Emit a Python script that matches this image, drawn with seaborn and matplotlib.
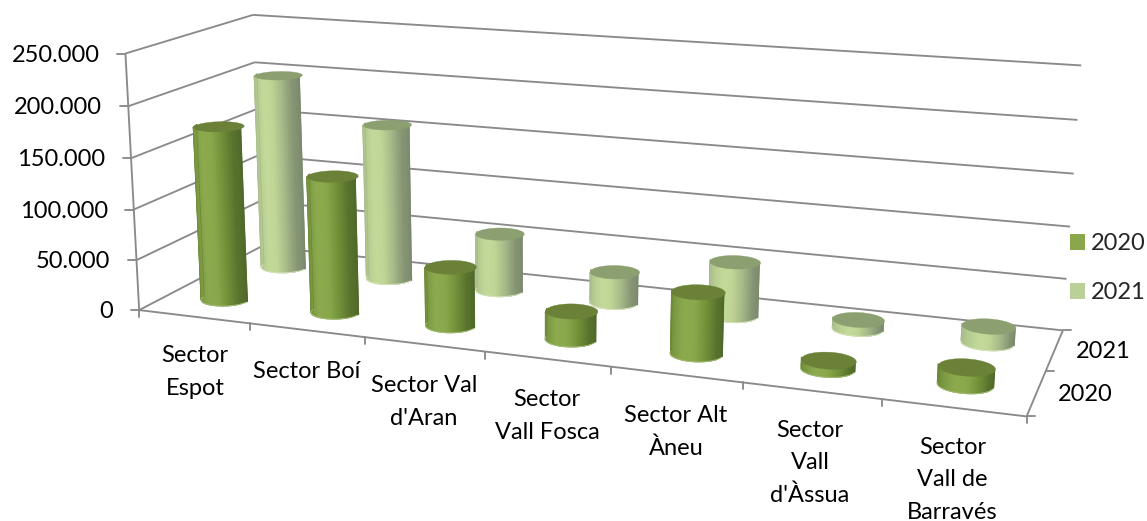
import numpy as np
import matplotlib
matplotlib.use("Agg")
import matplotlib.pyplot as plt
from matplotlib.collections import PolyCollection
from matplotlib.patches import Patch
import seaborn as sns

categories = ["Sector\nEspot", "Sector Boí", "Sector Val\nd'Aran", "Sector\nVall Fosca",
              "Sector Alt\nÀneu", "Sector\nVall\nd'Àssua", "Sector\nVall de\nBarravés"]
series = ["2020", "2021"]
values_2020 = [173000, 134000, 57000, 27000, 58000, 8000, 16000]
values_2021 = [201000, 159000, 58000, 31000, 53000, 9000, 16000]
value_ticks = [0, 50000, 100000, 150000, 200000, 250000]

# camera: known box positions (category, series, value) -> picture position
cam_world = np.array([[0,0,0],[7,0,0],[0,2,0],[7,2,0],[0,0,250000],[0,2,250000],[7,2,250000],
                      [1,0,0],[2,0,0],[3,0,0],[4,0,0],[5,0,0],[7,2,200000],[7,2,100000],[0,0,200000]], float)
cam_img = np.array([[140.5,310],[1026.7,415.7],[259.5,246],[1063.3,330],[124,53],[255,15.5],[1081,65.3],
                    [250.7,323],[365,337.3],[485.7,351.7],[610.7,367.7],[742.7,383],[1077.3,120],[1070.3,226.7],[127.7,106]], float)
SCALE = np.array([1, 1, 1/50000])
rows = []
for w, im in zip(cam_world * SCALE, cam_img):
    W = np.r_[w, 1]
    rows.append(np.r_[W, np.zeros(4), -im[0] * W])
    rows.append(np.r_[np.zeros(4), W, -im[1] * W])
P = np.linalg.svd(np.array(rows))[2][-1].reshape(3, 4)

def project(x, y, z):
    x, y, z = np.broadcast_arrays(x, y, z)
    H = P @ np.vstack([x.ravel(), y.ravel(), z.ravel() / 50000, np.ones(x.size)])
    return np.column_stack([H[0] / H[2], H[1] / H[2]])

sns.set_theme(style="white")
plt.rcParams["font.family"] = ["Lato", "DejaVu Sans"]
FS = 17
fig = plt.figure(figsize=(11.47, 5.21), dpi=100, facecolor="white")
ax = fig.add_axes([0, 0, 1, 1])
ax.axis("off")

GRID = "#8a8a8a"
LW = 1.35
def seg(a, b, **k):
    p = project(*np.array([a, b], float).T)
    ax.plot(p[:, 0], p[:, 1], color=GRID, lw=LW, solid_capstyle="butt", zorder=1, **k)

for v in value_ticks:
    seg((0, 0, v), (0, 2, v))
    seg((0, 2, v), (7, 2, v))
    p = project(0, 0, v)[0]
    ax.plot([p[0] - 8.5, p[0]], [p[1], p[1]], color=GRID, lw=LW, zorder=1)
    ax.text(p[0] - 26, p[1] + 1.5, f"{v:,}".replace(",", "."), ha="right", va="center",
            fontsize=FS, color="black")
seg((0, 0, 0), (0, 0, 250000))
seg((0, 0, 0), (7, 0, 0))
seg((7, 0, 0), (7, 2, 0))
for i in range(len(categories) + 1):
    p = project(i, 0, 0)[0]
    ax.plot([p[0], p[0]], [p[1], p[1] + 7], color=GRID, lw=LW, zorder=1)
for j in range(len(series) + 1):
    p = project(7, j, 0)[0]
    ax.plot([p[0], p[0] + 8], [p[1], p[1]], color=GRID, lw=LW, zorder=1)

label_xy = [(195, 372), (307, 371.5), (424, 402), (547, 416), (676, 432), (810, 463), (952.5, 480)]
for lab, (lx, ly) in zip(categories, label_xy):
    ax.text(lx, ly, lab, ha="center", va="center", fontsize=FS, color="black", linespacing=1.68)
for lab, (lx, ly) in zip(series, [(1085.7, 394.5), (1103, 351.5)]):
    ax.text(lx, ly, lab, ha="center", va="center", fontsize=FS, color="black")

# cylinders
RX, RY = 0.2, 0.19
NSTRIP = 16
side_colors = {
    "2020": ["#6a8537", "#7e9c44", "#8dab4e", "#8aa84b", "#729039", "#50692a"],
    "2021": ["#a6b98c", "#b6cb90", "#c4da9a", "#c0d596", "#a4b787", "#7b8a6e"],
}
shade = {k: sns.blend_palette(c, as_cmap=True) for k, c in side_colors.items()}
tops = {"2020": "#6b8138", "2021": "#8b9f70"}
rims = {"2020": "#a3ba74", "2021": "#d3e2b8"}
base = {"2020": "#8aa84b", "2021": "#bbd098"}
theta = np.linspace(0, 2 * np.pi, 121)
front = 2 * np.pi - np.arccos(np.linspace(-1, 1, NSTRIP + 1))
arc = np.linspace(1.03 * np.pi, 1.97 * np.pi, 61)

def ring(cat, ser, angles, val):
    return project(cat + 0.5 + RX * np.cos(angles), ser + 0.5 + RY * np.sin(angles), val)

def cylinder(cat, ser, val, name):
    bot, top = ring(cat, ser, front, 0), ring(cat, ser, front, val)
    z = 10 + 10 * (1 - ser)
    X = np.vstack([bot[:, 0], top[:, 0]])
    Y = np.vstack([bot[:, 1], top[:, 1]])
    C = np.tile(np.linspace(0, 1, NSTRIP + 1), (2, 1))
    ax.pcolormesh(X, Y, C, shading="gouraud", cmap=shade[name], vmin=0, vmax=1, zorder=z)
    for k, c in ((0, side_colors[name][0]), (-1, side_colors[name][-1])):
        ax.plot([bot[k, 0], top[k, 0]], [bot[k, 1], top[k, 1]], color=c, lw=0.5, zorder=z + 0.1)
    rim = ring(cat, ser, arc, 0)
    ax.plot(rim[:, 0], rim[:, 1], color=rims[name], lw=0.7, zorder=z + 0.2)
    cap = PolyCollection([ring(cat, ser, theta, val)], facecolors=tops[name], edgecolors=tops[name],
                         linewidths=0.25, zorder=z + 0.5)
    cap.set_snap(False)
    ax.add_collection(cap)

for j, (name, vals) in enumerate(zip(series, [values_2020, values_2021])):
    for i, v in enumerate(vals):
        cylinder(i, j, v, name)

ax.set_xlim(0, 1147)
ax.set_ylim(521, 0)
leg = ax.legend(handles=[Patch(facecolor=base[s], edgecolor="none", label=s) for s in series],
                loc="upper left", bbox_to_anchor=(1065, 228.5), bbox_transform=ax.transData,
                frameon=False, fontsize=FS, handlelength=0.636, handleheight=0.636,
                labelspacing=1.18, handletextpad=0.28, borderpad=0.2, borderaxespad=0)
fig.savefig("out.png", dpi=100)
